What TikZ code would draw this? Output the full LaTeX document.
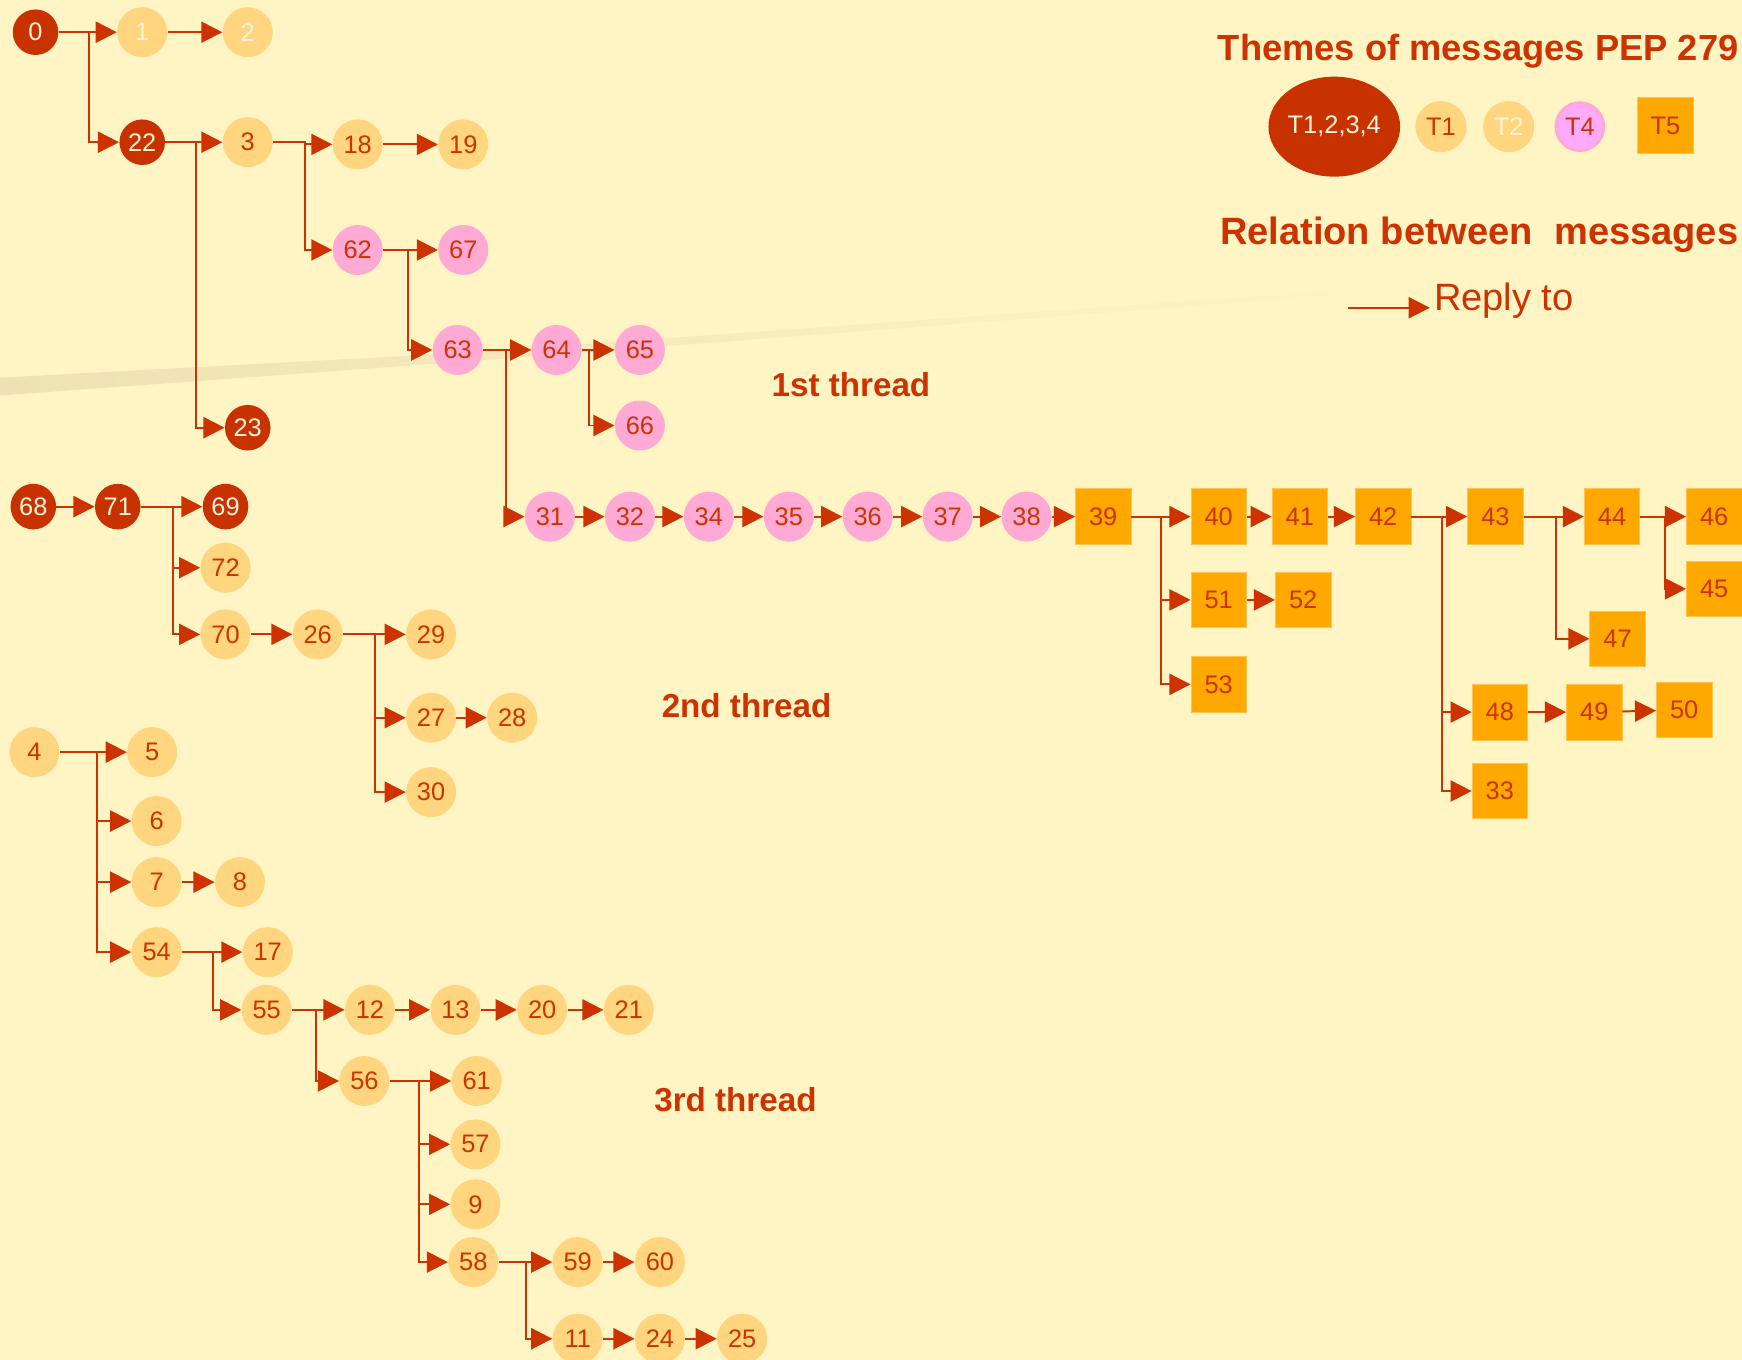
\documentclass[tikz,border=0pt]{standalone}
\usepackage{fontspec}
\setmainfont{Liberation Sans}
\usetikzlibrary{shapes.geometric,arrows.meta,positioning}
\tikzset{every node/.append style={align=center}}
\definecolor{bgcolor}{RGB}{255,244,196}
\definecolor{bandcolor}{RGB}{238,226,180}
\definecolor{replycolor}{RGB}{204,51,0}
\definecolor{allcolor}{RGB}{200,50,0}
\definecolor{onecolor}{RGB}{255,213,127}
\definecolor{fourcolor}{RGB}{255,170,213}
\definecolor{fivecolor}{RGB}{255,168,0}
\definecolor{fiveedge}{RGB}{255,196,80}
\definecolor{keyfourcolor}{RGB}{255,170,250}
\definecolor{creamcolor}{RGB}{255,243,214}

\begin{document}
\begin{tikzpicture}[x=0.02cm, y=-0.02cm,
    msgall/.style={circle, fill=allcolor, text=creamcolor, minimum size=0.82cm, inner sep=0pt, font=\fontsize{13}{15}\selectfont},
    msgone/.style={circle, fill=onecolor, text=replycolor, minimum size=0.9cm, inner sep=0pt, font=\fontsize{13}{15}\selectfont},
    msgtwo/.style={msgone, text=creamcolor},
    msgfour/.style={msgone, fill=fourcolor},
    msgfive/.style={rectangle, fill=fivecolor, draw=fiveedge, line width=0.4pt, text=replycolor, minimum size=1cm, inner sep=0pt, font=\fontsize{13}{15}\selectfont},
    reply/.style={draw=replycolor, line width=1pt, -{Triangle[length=0.38cm, width=0.38cm]}},
    title/.style={text=replycolor, font=\fontsize{19.5}{22}\selectfont\bfseries},
    threadlabel/.style={text=replycolor, font=\fontsize{17}{20}\selectfont\bfseries},
]
    \useasboundingbox (0,0) rectangle (1568,1224);
    \clip (0,0) rectangle (1568,1224);
    \fill[bgcolor] (0,0) rectangle (1568,1224);
    \shade[left color=bandcolor, middle color=bandcolor!50!bgcolor, right color=bgcolor]
        (0,340) -- (410,318) -- (1250,258) -- (1250,262) -- (410,326) -- (0,356) -- cycle;

    % Legend
    \node[title, font=\fontsize{18.6}{22}\selectfont\bfseries, anchor=east, inner sep=1pt] (themes) at (1567,46) {Themes of messages PEP 279};
    \node[ellipse, fill=allcolor, text=creamcolor, minimum width=2.2cm, minimum height=1.8cm, inner sep=0pt, font=\fontsize{13}{15}\selectfont] (keyall) at (1201,114) {T1,2,3,4};
    \node[msgone, minimum size=0.92cm] (keyone) at (1297,114) {T1};
    \node[msgtwo, minimum size=0.92cm] (keytwo) at (1358,114) {T2};
    \node[msgfour, fill=keyfourcolor, draw=fourcolor, line width=1.5pt, minimum size=0.86cm] (keyfour) at (1422,114) {T4};
    \node[msgfive] (keyfive) at (1499,113) {T5};
    \node[title, anchor=west] (relation) at (1092,211) {Relation between\ \ messages};
    \coordinate (replyfrom) at (1213,277);
    \node[text=replycolor, font=\fontsize{19.5}{22}\selectfont, anchor=west, inner sep=2pt] (replyto) at (1287,271) {Reply to};
    \draw[reply] (replyfrom) -- (replyfrom -| replyto.west);

    % Thread labels
    \node[threadlabel] (thread1) at (766,346) {1st thread};
    \node[threadlabel] (thread2) at (672,635) {2nd thread};
    \node[threadlabel] (thread3) at (662,990) {3rd thread};

    % 1st thread
    \node[msgall] (m0) at (32,29) {0};
    \node[msgtwo] (m1) at (128,29) {1};
    \node[msgtwo] (m2) at (223,29) {2};
    \node[msgall] (m22) at (128,128) {22};
    \node[msgone] (m3) at (223,128) {3};
    \node[msgone] (m18) at (322,130) {18};
    \node[msgone] (m19) at (417,130) {19};
    \node[msgfour] (m62) at (322,225) {62};
    \node[msgfour] (m67) at (417,225) {67};
    \node[msgfour] (m63) at (412,315) {63};
    \node[msgfour] (m64) at (501,315) {64};
    \node[msgfour] (m65) at (576,315) {65};
    \node[msgfour] (m66) at (576,383) {66};
    \node[msgall] (m23) at (223,385) {23};
    \node[msgfour] (m31) at (495,465) {31};
    \node[msgfour] (m32) at (567,465) {32};
    \node[msgfour] (m34) at (638,465) {34};
    \node[msgfour] (m35) at (710,465) {35};
    \node[msgfour] (m36) at (781,465) {36};
    \node[msgfour] (m37) at (853,465) {37};
    \node[msgfour] (m38) at (924,465) {38};
    \node[msgfive] (m39) at (993,465) {39};
    \node[msgfive] (m40) at (1097,465) {40};
    \node[msgfive] (m41) at (1170,465) {41};
    \node[msgfive] (m42) at (1245,465) {42};
    \node[msgfive] (m43) at (1346,465) {43};
    \node[msgfive] (m44) at (1451,465) {44};
    \node[msgfive] (m46) at (1543,465) {46};
    \node[msgfive] (m45) at (1543,530) {45};
    \node[msgfive] (m51) at (1097,540) {51};
    \node[msgfive] (m52) at (1173,540) {52};
    \node[msgfive] (m53) at (1097,616) {53};
    \node[msgfive] (m47) at (1456,575) {47};
    \node[msgfive] (m48) at (1350,641) {48};
    \node[msgfive] (m49) at (1435,641) {49};
    \node[msgfive] (m50) at (1516,639) {50};
    \node[msgfive] (m33) at (1350,712) {33};

    % 2nd thread
    \node[msgall] (m68) at (30,456) {68};
    \node[msgall] (m71) at (106,456) {71};
    \node[msgall] (m69) at (203,456) {69};
    \node[msgone] (m72) at (203,511) {72};
    \node[msgone] (m70) at (203,571) {70};
    \node[msgone] (m26) at (286,571) {26};
    \node[msgone] (m29) at (388,571) {29};
    \node[msgone] (m27) at (388,646) {27};
    \node[msgone] (m28) at (461,646) {28};
    \node[msgone] (m30) at (388,713) {30};

    % 3rd thread
    \node[msgone] (m4) at (31,677) {4};
    \node[msgone] (m5) at (137,677) {5};
    \node[msgone] (m6) at (141,739) {6};
    \node[msgone] (m7) at (141,794) {7};
    \node[msgone] (m8) at (216,794) {8};
    \node[msgone] (m54) at (141,857) {54};
    \node[msgone] (m17) at (241,857) {17};
    \node[msgone] (m55) at (240,909) {55};
    \node[msgone] (m12) at (333,909) {12};
    \node[msgone] (m13) at (410,909) {13};
    \node[msgone] (m20) at (488,909) {20};
    \node[msgone] (m21) at (566,909) {21};
    \node[msgone] (m56) at (328,973) {56};
    \node[msgone] (m61) at (429,973) {61};
    \node[msgone] (m57) at (428,1030) {57};
    \node[msgone] (m9) at (428,1084) {9};
    \node[msgone] (m58) at (426,1136) {58};
    \node[msgone] (m59) at (520,1136) {59};
    \node[msgone] (m60) at (594,1136) {60};
    \node[msgone] (m11) at (520,1205) {11};
    \node[msgone] (m24) at (594,1205) {24};
    \node[msgone] (m25) at (668,1205) {25};

    % Replies, 1st thread
    \draw[reply] (m0.east) -- ++(27.5,0) |- (m1);
    \draw[reply] (m0.east) -- ++(27.5,0) |- (m22);
    \draw[reply] (m1) -- (m2);
    \draw[reply] (m22.east) -- ++(27.5,0) |- (m3);
    \draw[reply] (m22.east) -- ++(27.5,0) |- (m23);
    \draw[reply] (m3.east) -- ++(28.5,0) |- (m18);
    \draw[reply] (m3.east) -- ++(28.5,0) |- (m62);
    \draw[reply] (m18) -- (m19);
    \draw[reply] (m62.east) -- ++(22.5,0) |- (m67);
    \draw[reply] (m62.east) -- ++(22.5,0) |- (m63);
    \draw[reply] (m63.east) -- ++(20.5,0) |- (m64);
    \draw[reply] (m63.east) -- ++(20.5,0) |- (m31);
    \draw[reply] (m64.east) -- ++(6.5,0) |- (m65);
    \draw[reply] (m64.east) -- ++(6.5,0) |- (m66);
    \draw[reply] (m31) -- (m32);
    \draw[reply] (m32) -- (m34);
    \draw[reply] (m34) -- (m35);
    \draw[reply] (m35) -- (m36);
    \draw[reply] (m36) -- (m37);
    \draw[reply] (m37) -- (m38);
    \draw[reply] (m38) -- (m39);
    \draw[reply] (m39.east) -- ++(27,0) |- (m40);
    \draw[reply] (m39.east) -- ++(27,0) |- (m51);
    \draw[reply] (m39.east) -- ++(27,0) |- (m53);
    \draw[reply] (m51) -- (m52);
    \draw[reply] (m40) -- (m41);
    \draw[reply] (m41) -- (m42);
    \draw[reply] (m42.east) -- ++(28,0) |- (m43);
    \draw[reply] (m42.east) -- ++(28,0) |- (m48);
    \draw[reply] (m42.east) -- ++(28,0) |- (m33);
    \draw[reply] (m48) -- (m49);
    \draw[reply] (m49) -- (m50);
    \draw[reply] (m43.east) -- ++(29,0) |- (m44);
    \draw[reply] (m43.east) -- ++(29,0) |- (m47);
    \draw[reply] (m44.east) -- ++(22,0) |- (m46);
    \draw[reply] (m44.east) -- ++(22,0) |- (m45);

    % Replies, 2nd thread
    \draw[reply] (m68) -- (m71);
    \draw[reply] (m71.east) -- ++(28.5,0) |- (m69);
    \draw[reply] (m71.east) -- ++(28.5,0) |- (m72);
    \draw[reply] (m71.east) -- ++(28.5,0) |- (m70);
    \draw[reply] (m70) -- (m26);
    \draw[reply] (m26.east) -- ++(28.5,0) |- (m29);
    \draw[reply] (m26.east) -- ++(28.5,0) |- (m27);
    \draw[reply] (m26.east) -- ++(28.5,0) |- (m30);
    \draw[reply] (m27) -- (m28);

    % Replies, 3rd thread
    \draw[reply] (m4.east) -- ++(33.5,0) |- (m5);
    \draw[reply] (m4.east) -- ++(33.5,0) |- (m6);
    \draw[reply] (m4.east) -- ++(33.5,0) |- (m7);
    \draw[reply] (m4.east) -- ++(33.5,0) |- (m54);
    \draw[reply] (m7) -- (m8);
    \draw[reply] (m54.east) -- ++(27.5,0) |- (m17);
    \draw[reply] (m54.east) -- ++(27.5,0) |- (m55);
    \draw[reply] (m55.east) -- ++(21.5,0) |- (m12);
    \draw[reply] (m55.east) -- ++(21.5,0) |- (m56);
    \draw[reply] (m12) -- (m13);
    \draw[reply] (m13) -- (m20);
    \draw[reply] (m20) -- (m21);
    \draw[reply] (m56.east) -- ++(26.5,0) |- (m61);
    \draw[reply] (m56.east) -- ++(26.5,0) |- (m57);
    \draw[reply] (m56.east) -- ++(26.5,0) |- (m9);
    \draw[reply] (m56.east) -- ++(26.5,0) |- (m58);
    \draw[reply] (m58.east) -- ++(24.5,0) |- (m59);
    \draw[reply] (m58.east) -- ++(24.5,0) |- (m11);
    \draw[reply] (m59) -- (m60);
    \draw[reply] (m11) -- (m24);
    \draw[reply] (m24) -- (m25);
\end{tikzpicture}
\end{document}
